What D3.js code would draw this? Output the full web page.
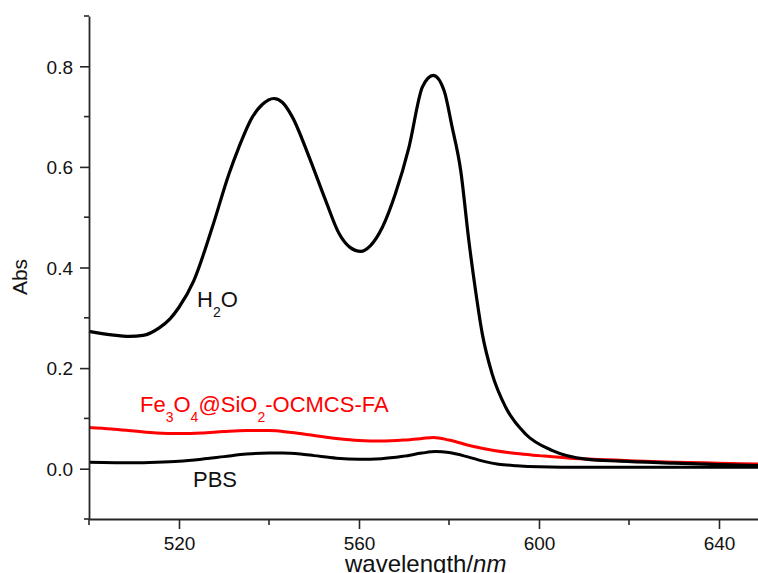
<!DOCTYPE html>
<html>
<head>
<meta charset="utf-8">
<script src="https://cdn.jsdelivr.net/npm/d3@7"></script>
<style>
  html, body { margin: 0; padding: 0; background: #fff; }
  svg { display: block; font-family: "Liberation Sans", Arial, sans-serif; }
</style>
</head>
<body>
<svg id="chart" width="758" height="573"></svg>
<script>
// Absorption spectra: wavelength (nm) and absorbance for each sample
const h2oWavelength = [500, 505, 509, 512, 515.6, 518, 520, 523.3, 527.4, 531.1, 533.3, 536.3, 538.5, 541.1, 543, 545.2, 548.9, 552.6, 555.6, 558, 560.4, 562.5, 565.2, 568.1, 571.1, 574.1, 576.5, 578.9, 580.7, 582.6, 584.4, 585.9, 587.4, 589.6, 592.6, 597, 603, 610.4, 618, 630, 640, 650];
const h2oAbs = [0.273, 0.266, 0.263, 0.265, 0.280, 0.298, 0.321, 0.374, 0.480, 0.586, 0.639, 0.699, 0.724, 0.736, 0.728, 0.699, 0.620, 0.533, 0.467, 0.440, 0.432, 0.443, 0.480, 0.547, 0.639, 0.759, 0.782, 0.752, 0.679, 0.593, 0.454, 0.354, 0.268, 0.188, 0.122, 0.069, 0.036, 0.019, 0.015, 0.011, 0.008, 0.006];

const feWavelength = [500, 505, 510, 515, 520, 525, 530, 535, 540, 545, 550, 555, 560, 565, 570, 574, 576.5, 580, 585, 590, 595, 600, 607, 615, 620, 630, 640, 650];
const feAbs = [0.082, 0.079, 0.075, 0.071, 0.070, 0.071, 0.074, 0.076, 0.076, 0.072, 0.066, 0.060, 0.056, 0.055, 0.057, 0.060, 0.062, 0.057, 0.045, 0.036, 0.030, 0.026, 0.021, 0.018, 0.016, 0.013, 0.011, 0.009];

const pbsWavelength = [500, 510, 515, 520, 525, 530, 535, 540, 543, 547, 550, 555, 560, 565, 570, 574, 577, 580, 584, 588, 591, 595, 600, 610, 620, 630, 640, 650];
const pbsAbs = [0.013, 0.012, 0.013, 0.015, 0.019, 0.024, 0.029, 0.031, 0.031, 0.029, 0.026, 0.021, 0.019, 0.020, 0.025, 0.031, 0.034, 0.032, 0.024, 0.014, 0.009, 0.006, 0.004, 0.003, 0.003, 0.003, 0.003, 0.003];

// Axis ticks
const xMajorTicks = [520, 560, 600, 640];
const xMinorTicks = [500, 540, 580, 620];
const yMajorTicks = [0.0, 0.2, 0.4, 0.6, 0.8];
const yMinorTicks = [-0.1, 0.1, 0.3, 0.5, 0.7, 0.9];

const svg = d3.select("#chart");

const x = d3.scaleLinear().domain([500, 650]).range([89, 764]);
const y = d3.scaleLinear().domain([-0.1, 0.9]).range([519, 16]);

const axisColor = "#262626";

// Curves
const line = d3.line()
  .x(d => x(d[0]))
  .y(d => y(d[1]))
  .curve(d3.curveMonotoneX);

const zipSeries = (w, a) => w.map((v, i) => [v, a[i]]);

const series = [
  { data: zipSeries(pbsWavelength, pbsAbs), color: "#000", width: 3 },
  { data: zipSeries(feWavelength, feAbs), color: "#ff0000", width: 3 },
  { data: zipSeries(h2oWavelength, h2oAbs), color: "#000", width: 3.2 }
];

svg.append("g").selectAll("path")
  .data(series)
  .join("path")
  .attr("d", d => line(d.data))
  .attr("fill", "none")
  .attr("stroke", d => d.color)
  .attr("stroke-width", d => d.width)
  .attr("stroke-linejoin", "round");

// Left axis with minor ticks
const yAxis = svg.append("g").attr("transform", `translate(${x(500)},0)`);
yAxis.call(d3.axisLeft(y).tickValues(yMajorTicks).tickFormat(d3.format(".1f")).tickSize(9).tickSizeOuter(0));
yAxis.selectAll("line.minor")
  .data(yMinorTicks)
  .join("line")
  .attr("class", "minor")
  .attr("x1", -5).attr("x2", 0)
  .attr("y1", d => y(d)).attr("y2", d => y(d));

// Bottom axis with minor ticks
const xAxis = svg.append("g").attr("transform", `translate(0,${y(-0.1)})`);
xAxis.call(d3.axisBottom(x).tickValues(xMajorTicks).tickFormat(d3.format("d")).tickSize(10).tickSizeOuter(0));
xAxis.selectAll("line.minor")
  .data(xMinorTicks)
  .join("line")
  .attr("class", "minor")
  .attr("y1", 0).attr("y2", 6)
  .attr("x1", d => x(d)).attr("x2", d => x(d));

[xAxis, yAxis].forEach(g => {
  g.select(".domain").attr("stroke", axisColor).attr("stroke-width", 1.8);
  g.selectAll("line").attr("stroke", axisColor).attr("stroke-width", 1.6);
  g.selectAll("text").attr("fill", "#111").style("font-size", "19px").style("font-family", "'Liberation Sans', Arial, sans-serif");
});
yAxis.selectAll(".tick text").attr("x", -16).attr("dy", "0.36em");
xAxis.selectAll(".tick text").attr("y", 18).attr("dy", "0.71em");

// Axis titles
svg.append("text")
  .attr("transform", `translate(27,${277}) rotate(-90)`)
  .attr("text-anchor", "middle")
  .style("font-size", "21px")
  .attr("fill", "#111")
  .text("Abs");

const xTitle = svg.append("text")
  .attr("x", 345).attr("y", 572)
  .style("font-size", "24px")
  .attr("fill", "#111");
xTitle.append("tspan").text("wavelength/");
xTitle.append("tspan").style("font-style", "italic").text("nm");

// Series labels with subscripts
function labelWithSubs(parent, xPos, yPos, parts, color) {
  const t = parent.append("text")
    .attr("x", xPos).attr("y", yPos)
    .style("font-size", "22px")
    .attr("fill", color);
  let shifted = 0;
  parts.forEach(p => {
    const ts = t.append("tspan").text(p.t);
    if (p.sub) {
      ts.style("font-size", "14px").attr("dy", 10 - shifted);
      shifted = 10;
    } else {
      ts.attr("dy", -shifted);
      shifted = 0;
    }
  });
}

labelWithSubs(svg, 197, 307, [{ t: "H" }, { t: "2", sub: true }, { t: "O" }], "#111");
labelWithSubs(svg, 140, 412, [
  { t: "Fe" }, { t: "3", sub: true }, { t: "O" }, { t: "4", sub: true },
  { t: "@SiO" }, { t: "2", sub: true }, { t: "-OCMCS-FA" }
], "#ff0000");
labelWithSubs(svg, 193, 487, [{ t: "PBS" }], "#111");
</script>
</body>
</html>
